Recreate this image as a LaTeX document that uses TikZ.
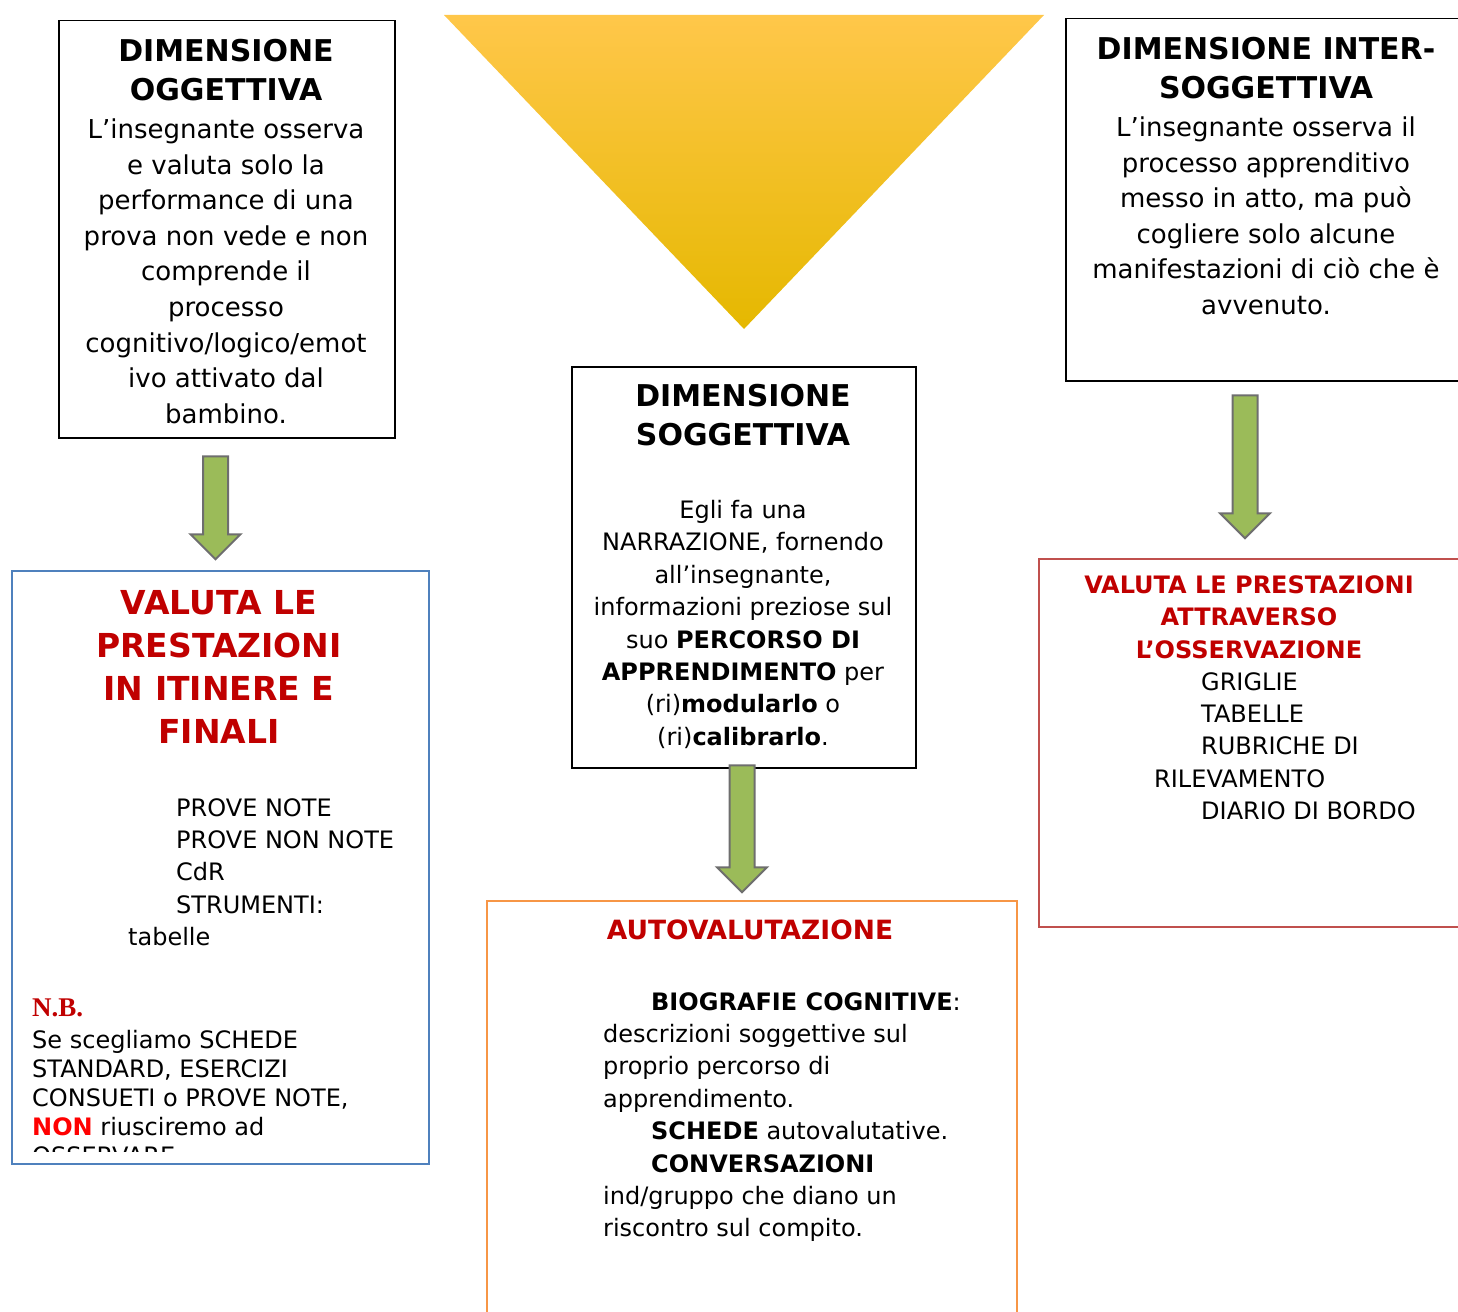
\documentclass[tikz,border=0pt]{standalone}
\usepackage{fontspec}
\setmainfont{DejaVu Sans}
\newfontfamily\nbfont{Liberation Serif}
\usepackage{tikz}
\usetikzlibrary{shapes.arrows,positioning}
\definecolor{titlered}{RGB}{192,0,0}
\definecolor{nonred}{RGB}{255,0,0}
\definecolor{boxblue}{RGB}{79,129,189}
\definecolor{boxorange}{RGB}{247,150,70}
\definecolor{boxred}{RGB}{192,80,77}
\definecolor{arrowgreen}{RGB}{155,187,89}
\definecolor{arrowgray}{RGB}{110,110,110}
\definecolor{trtop}{RGB}{255,199,74}
\definecolor{trmid}{RGB}{253,200,0}
\definecolor{trbot}{RGB}{229,184,0}
\tikzstyle{box} = [draw, line width=1.5pt, inner sep=0pt, anchor=north west]
\tikzstyle{txt} = [anchor=north, inner sep=0pt, align=center]
\tikzstyle{lst} = [anchor=north west, inner sep=0pt, align=left]
\tikzstyle{garrow} = [single arrow, draw=arrowgray, fill=arrowgreen, line width=2pt, minimum width=48pt, single arrow head extend=12.5pt, shape border rotate=270, inner sep=11.5pt]
\newcommand{\titfont}{\fontsize{30}{39.5}\selectfont\bfseries}
\newcommand{\bigfont}{\fontsize{26}{35.6}\selectfont}
\newcommand{\smallfont}{\fontsize{24}{32.4}\selectfont}

\begin{document}
\begin{tikzpicture}[x=1pt,y=-1pt]
    \clip (0,0) rectangle (1458,1311);
    \shade[top color=trtop, middle color=trmid, bottom color=trbot] (444,15) -- (1044,15) -- (744,329) -- cycle;
    % riquadri
    \node[box, minimum width=336pt, minimum height=417pt] (ogg) at (58,20) {};
    \node[box, minimum width=410pt, minimum height=362pt] (inter) at (1065,18) {};
    \node[box, minimum width=344pt, minimum height=401pt] (sogg) at (571,366) {};
    \node[box, draw=boxblue, minimum width=417pt, minimum height=593pt] (itinere) at (11,570) {};
    \node[box, draw=boxorange, minimum width=530pt, minimum height=430pt] (auto) at (486,900) {};
    \node[box, draw=boxred, minimum width=437pt, minimum height=368pt] (osserv) at (1038,558) {};
    % frecce
    \node[garrow, minimum height=103pt] (arrogg) at (215.5,501.5) {};
    \node[garrow, minimum height=127pt] (arrsogg) at (742,822.5) {};
    \node[garrow, minimum height=143pt] (arrinter) at (1245,460.5) {};
    % testi in alto
    \node[txt, font=\titfont] (oggtit) at (226,39) {DIMENSIONE\\OGGETTIVA};
    \node[txt, font=\bigfont] (oggtxt) at (226,118.5) {L’insegnante osserva\\e valuta solo la\\performance di una\\prova non vede e non\\comprende il\\processo\\cognitivo/logico/emot\\ivo attivato dal\\bambino.};
    \node[txt, font=\titfont] (intertit) at (1266,37) {DIMENSIONE INTER-\\SOGGETTIVA};
    \node[txt, font=\bigfont] (intertxt) at (1266,116.5) {L’insegnante osserva il\\processo apprenditivo\\messo in atto, ma può\\cogliere solo alcune\\manifestazioni di ciò che è\\avvenuto.};
    \node[txt, font=\titfont] (soggtit) at (743,384) {DIMENSIONE\\SOGGETTIVA};
    \node[txt, font=\smallfont] (soggtxt) at (743,500) {Egli fa una\\NARRAZIONE, fornendo\\all’insegnante,\\informazioni preziose sul\\suo \textbf{PERCORSO DI}\\\textbf{APPRENDIMENTO} per\\(ri)\textbf{modularlo} o\\(ri)\textbf{calibrarlo}.};
    % valutazione in itinere
    \node[txt, font={\fontsize{33}{43}\selectfont\bfseries}, text=titlered] (itintit) at (219,590) {VALUTA LE\\PRESTAZIONI\\IN ITINERE E\\FINALI};
    \node[lst, font=\smallfont] (itinlst) at (128,798) {\hspace*{48pt}PROVE NOTE\\\hspace*{48pt}PROVE NON NOTE\\\hspace*{48pt}CdR\\\hspace*{48pt}STRUMENTI:\\tabelle};
    \node[lst, font={\nbfont\fontsize{27}{30}\selectfont\bfseries}, text=titlered] (nb) at (32,999) {N.B.};
    \begin{scope}
      \clip (11,570) rectangle (428,1151);
      \node[lst, font={\fontsize{24}{29}\selectfont}] (nbtxt) at (32,1030.5) {Se scegliamo SCHEDE\\STANDARD, ESERCIZI\\CONSUETI o PROVE NOTE,\\\textcolor{nonred}{\textbf{NON}} riusciremo ad\\OSSERVARE};
    \end{scope}
    % autovalutazione
    \node[txt, font={\fontsize{26.5}{32}\selectfont\bfseries}, text=titlered] (autotit) at (750,919.5) {AUTOVALUTAZIONE};
    \node[lst, font=\smallfont] (autotxt) at (603,992) {\hspace*{48pt}\textbf{BIOGRAFIE COGNITIVE}:\\descrizioni soggettive sul\\proprio percorso di\\apprendimento.\\\hspace*{48pt}\textbf{SCHEDE} autovalutative.\\\hspace*{48pt}\textbf{CONVERSAZIONI}\\ind/gruppo che diano un\\riscontro sul compito.};
    % osservazione
    \node[txt, font={\fontsize{24}{32.5}\selectfont\bfseries}, text=titlered] (osstit) at (1249,575) {VALUTA LE PRESTAZIONI\\ATTRAVERSO\\L’OSSERVAZIONE};
    \node[lst, font=\smallfont] (osslst) at (1154,672) {\hspace*{47pt}GRIGLIE\\\hspace*{47pt}TABELLE\\\hspace*{47pt}RUBRICHE DI\\RILEVAMENTO\\\hspace*{47pt}DIARIO DI BORDO};
  \end{tikzpicture}
\end{document}
